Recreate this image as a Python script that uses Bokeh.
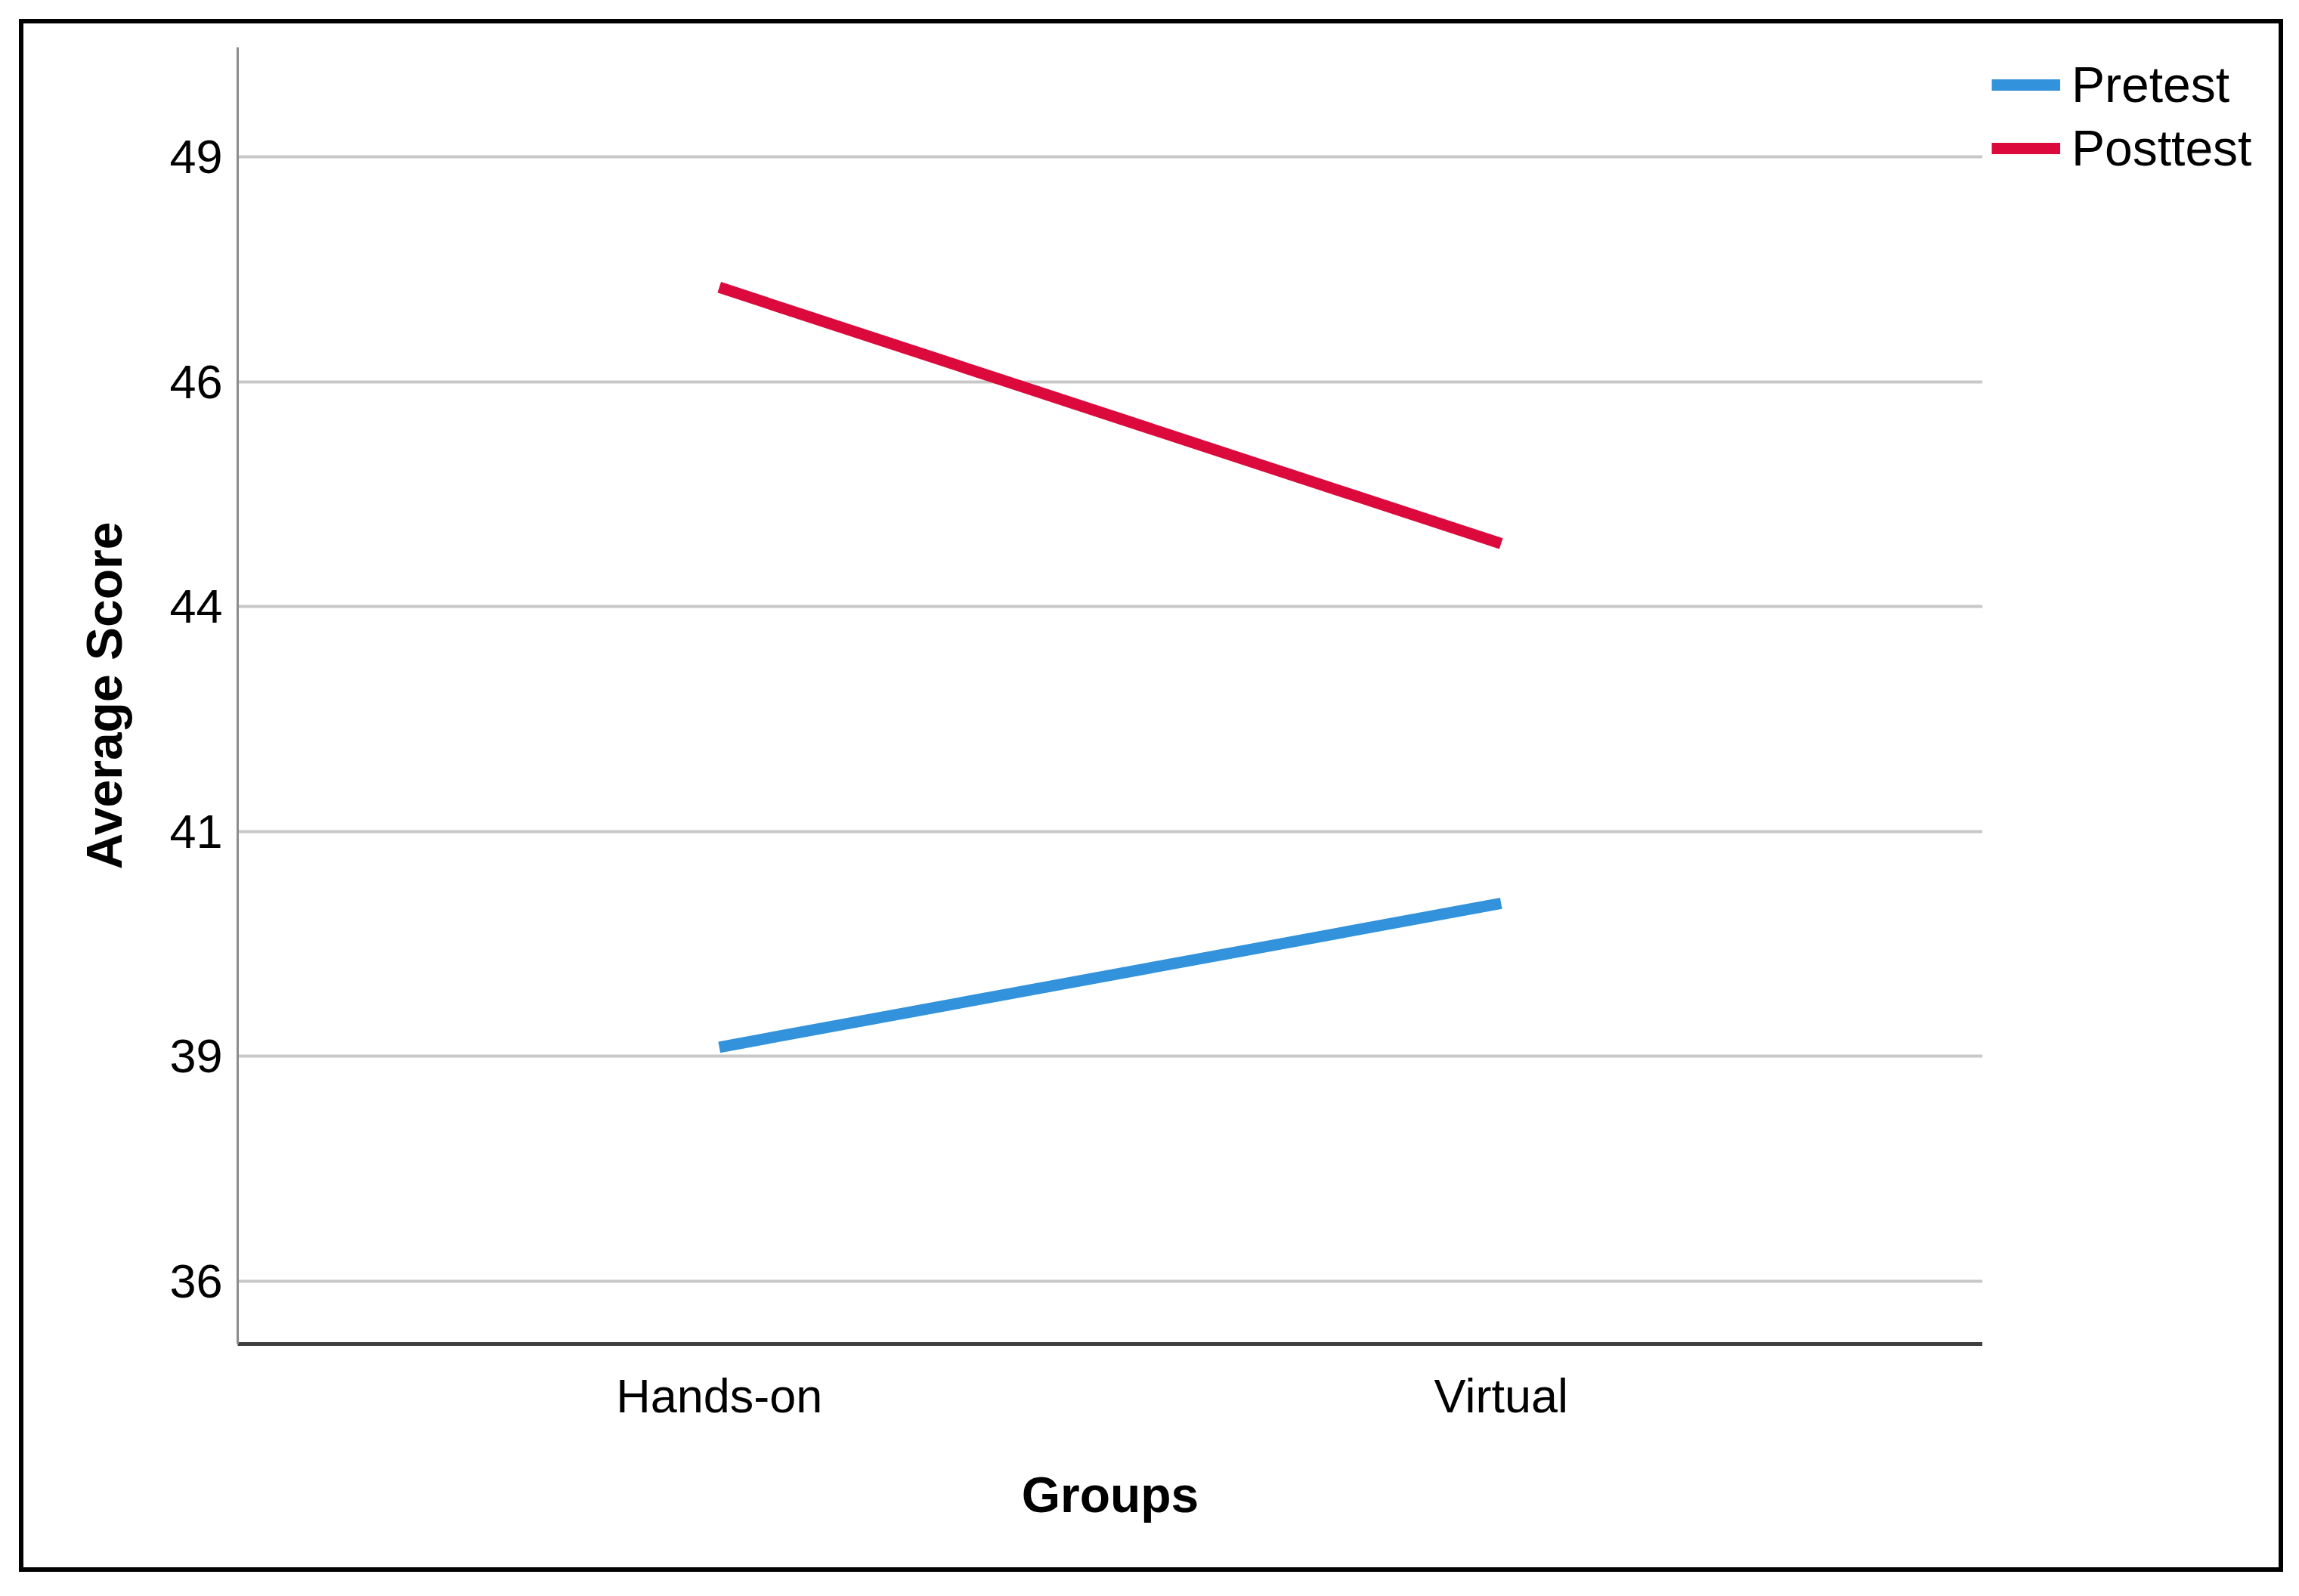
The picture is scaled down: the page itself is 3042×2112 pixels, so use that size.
from bokeh.plotting import figure
from bokeh.layouts import row
from bokeh.models import FactorRange, Range1d, FixedTicker, Legend, LegendItem
from bokeh.embed import file_html
from bokeh.resources import INLINE

groups = ["Hands-on", "Virtual"]
pretest = [38.6, 40.2]
posttest = [47.05, 44.2]
series_names = ["Pretest", "Posttest"]
series_colors = ["#3292DB", "#DC0A3C"]
y_ticks = [36.0, 38.5, 41.0, 43.5, 46.0, 48.5]
y_tick_labels = ["36", "39", "41", "44", "46", "49"]

FONT = "Liberation Sans"
FRAME_W = 2309
FRAME_H = 1716
TOTAL_W = 2984
TOTAL_H = 2043
LEFT = 283
TOP = 31
P_W = LEFT + FRAME_W

p = figure(
    x_range=FactorRange(*groups, range_padding=0.116, range_padding_units="percent"),
    y_range=Range1d(35.30, 49.72),
    width=P_W, height=TOTAL_H,
    output_backend="svg", toolbar_location=None,
    min_border_left=LEFT, min_border_right=0,
    min_border_top=TOP, min_border_bottom=TOTAL_H - TOP - FRAME_H,
)
p.background_fill_color = "white"
p.border_fill_color = "white"
p.outline_line_color = None

series = [pretest, posttest]
for vals, color in zip(series, series_colors):
    p.line(groups, vals, line_color=color, line_width=15)

p.xgrid.grid_line_color = None
p.ygrid.grid_line_color = "#C8C8C8"
p.ygrid.grid_line_width = 4
p.yaxis.ticker = FixedTicker(ticks=y_ticks)
p.yaxis.major_label_overrides = {t: l for t, l in zip(y_ticks, y_tick_labels)}

for ax in (p.xaxis[0], p.yaxis[0]):
    ax.major_tick_line_color = None
    ax.minor_tick_line_color = None
    ax.major_tick_out = 0
    ax.major_tick_in = 0
    ax.major_label_text_font = FONT
    ax.major_label_text_font_size = "63px"
    ax.major_label_text_color = "black"
    ax.axis_label_text_font = FONT
    ax.axis_label_text_font_size = "66px"
    ax.axis_label_text_font_style = "bold"
    ax.axis_label_text_color = "black"

p.yaxis.axis_line_color = "#8C8C8C"
p.yaxis.axis_line_width = 3
p.xaxis.axis_line_color = "#404040"
p.xaxis.axis_line_width = 5

p.yaxis.axis_label = "Average Score"
p.xaxis.axis_label = "Groups"
p.yaxis.major_label_standoff = 20
p.yaxis.axis_label_standoff = 46
p.xaxis.major_label_standoff = 33
p.xaxis.axis_label_standoff = 56

# legend panel: a second figure to the right of the plot frame.
# Its line renderers carry the series values, which fall outside its
# (0..1) y range, so only the legend entries are visible.
p2 = figure(
    width=TOTAL_W - P_W, height=TOTAL_H,
    x_range=Range1d(0, 1), y_range=Range1d(0, 1),
    output_backend="svg", toolbar_location=None,
    min_border_left=0, min_border_right=0,
    min_border_top=TOP - 18, min_border_bottom=0,
)
p2.axis.visible = False
p2.grid.visible = False
p2.outline_line_color = None
p2.background_fill_color = "white"
p2.border_fill_color = "white"

items = []
for name, vals, color in zip(series_names, series, series_colors):
    r = p2.line(x=list(range(len(vals))), y=vals, line_color=color, line_width=15)
    items.append(LegendItem(label=name, renderers=[r]))

legend = Legend(items=items, location="top_left")
legend.margin = 12
legend.padding = 0
legend.spacing = 8
legend.glyph_width = 91
legend.glyph_height = 60
legend.label_height = 60
legend.label_standoff = 15
legend.label_text_font = FONT
legend.label_text_font_size = "66px"
legend.label_text_color = "black"
legend.border_line_color = None
legend.background_fill_alpha = 0
p2.add_layout(legend, "center")

lay = row(p, p2, spacing=0)
lay.styles = {"border": "6px solid black", "margin": "25px 0 0 25px"}

open("out.html", "w").write(file_html(lay, INLINE))
